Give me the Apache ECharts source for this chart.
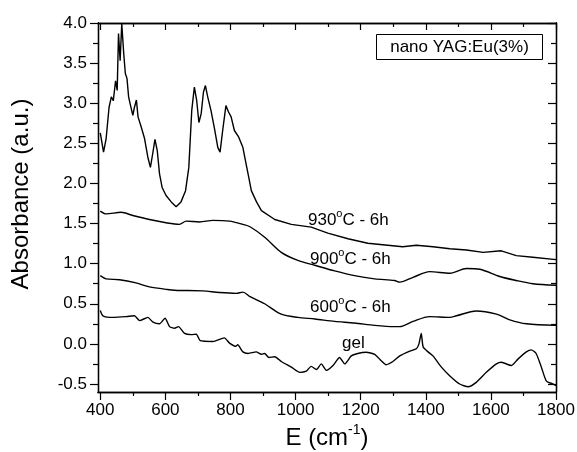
<!DOCTYPE html>
<html>
<head>
<meta charset="utf-8">
<script src="https://cdn.jsdelivr.net/npm/echarts@6/dist/echarts.min.js"></script>
<style>html,body{margin:0;padding:0;background:#fff}#c{width:577px;height:452px}</style>
</head>
<body>
<div id="c"></div>
<script>
// ---- data ----
var e930 = [400,410,418,427,434,440,447,452,456,461,466,472,477,482,487,493,500,505,511,516,526,536,546,554,561,568,575,582,590,602,618,633,648,662,672,681,689,696,703,710,717,723,730,740,751,761,768,776,786,794,802,812,825,838,850,856,864,880,895,936,987,1048,1099,1161,1222,1283,1329,1371,1422,1474,1525,1576,1632,1678,1729,1800];
var a930 = [2.63,2.39,2.56,2.95,3.08,3.03,3.28,3.16,3.87,3.53,3.99,3.62,3.37,3.31,3.08,2.97,2.85,2.95,3.04,2.83,2.70,2.56,2.33,2.20,2.37,2.55,2.41,2.12,1.95,1.85,1.77,1.71,1.77,1.91,2.20,2.91,3.20,3.04,2.76,2.87,3.14,3.22,3.08,2.91,2.68,2.45,2.39,2.66,2.97,2.89,2.83,2.66,2.58,2.45,2.20,2.08,1.91,1.77,1.66,1.55,1.49,1.455,1.38,1.31,1.255,1.23,1.21,1.23,1.21,1.185,1.17,1.14,1.16,1.10,1.08,1.05];
var e900 = [400,418,464,500,551,602,643,664,705,746,797,838,860,905,956,1007,1059,1120,1181,1243,1304,1320,1361,1412,1474,1525,1566,1627,1678,1729,1800];
var a900 = [1.655,1.62,1.64,1.60,1.55,1.51,1.49,1.53,1.52,1.54,1.53,1.49,1.46,1.33,1.14,1.04,0.98,0.91,0.85,0.81,0.79,0.77,0.83,0.90,0.88,0.94,0.93,0.84,0.79,0.75,0.73];
var e600 = [400,418,459,510,551,602,643,669,715,766,817,838,860,905,956,1007,1059,1120,1181,1243,1304,1320,1361,1412,1474,1494,1555,1617,1658,1709,1800];
var a600 = [0.85,0.81,0.80,0.76,0.71,0.68,0.665,0.665,0.66,0.64,0.63,0.645,0.59,0.50,0.37,0.33,0.31,0.28,0.26,0.23,0.215,0.215,0.28,0.34,0.33,0.35,0.41,0.37,0.30,0.25,0.23];
var eGel = [400,408,439,480,505,521,546,562,582,599,613,628,640,659,679,695,707,746,781,797,817,822,838,854,879,895,905,918,936,956,987,1013,1033,1048,1064,1079,1095,1115,1135,1151,1171,1191,1217,1243,1263,1278,1299,1320,1351,1371,1379,1386,1392,1407,1422,1448,1474,1504,1530,1555,1586,1617,1632,1663,1683,1709,1724,1739,1755,1770,1790,1800];
var aGel = [0.415,0.35,0.33,0.34,0.35,0.29,0.33,0.27,0.25,0.32,0.215,0.195,0.215,0.13,0.115,0.12,0.04,0.03,0.075,0.01,-0.03,-0.01,-0.10,-0.12,-0.10,-0.13,-0.12,-0.17,-0.16,-0.22,-0.29,-0.355,-0.34,-0.28,-0.32,-0.25,-0.33,-0.27,-0.17,-0.25,-0.15,-0.12,-0.105,-0.13,-0.21,-0.26,-0.22,-0.15,-0.09,-0.06,0.0,0.13,-0.04,-0.10,-0.15,-0.29,-0.40,-0.50,-0.535,-0.48,-0.355,-0.25,-0.23,-0.27,-0.19,-0.10,-0.075,-0.12,-0.29,-0.46,-0.50,-0.52];

var xMajor = [400,600,800,1000,1200,1400,1600,1800];
var xMinor = [500,700,900,1100,1300,1500,1700];
var yMajor = [-0.5,0,0.5,1,1.5,2,2.5,3,3.5,4];
var yMinor = [-0.25,0.25,0.75,1.25,1.75,2.25,2.75,3.25,3.75];

var seriesLabels = ['930{s|o}C - 6h','900{s|o}C - 6h','600{s|o}C - 6h','gel'];
var boxText = 'nano YAG:Eu(3%)';
var xTitle = 'E (cm{s|-1})';
var yTitle = 'Absorbance (a.u.)';

function zip(xs, ys){ var o=[]; for(var i=0;i<xs.length;i++) o.push([xs[i], ys[i]]); return o; }

var FONT = '"Liberation Sans", Arial, sans-serif';
var XMIN = 393, XMAX = 1800, YMIN = -0.6, YMAX = 4.0;
var lineStyleAxis = {color:'#000', width:1.3};

function xAx(pos, vals, len, inside, labels){
  return {type:'value', min:XMIN, max:XMAX, position:pos, gridIndex:0,
    axisLine:{show:true, onZero:false, lineStyle:lineStyleAxis},
    axisTick:{show:true, inside:inside, length:len, customValues:vals, lineStyle:{color:'#000', width:1.2}},
    axisLabel:{show:labels, customValues:vals, color:'#000', fontSize:17, fontFamily:FONT, margin:10,
      formatter:function(v){return String(Math.round(v));}},
    splitLine:{show:false}};
}
function yAx(pos, vals, len, inside, labels){
  return {type:'value', min:YMIN, max:YMAX, position:pos, gridIndex:0,
    axisLine:{show:true, onZero:false, lineStyle:lineStyleAxis},
    axisTick:{show:true, inside:inside, length:len, customValues:vals, lineStyle:{color:'#000', width:1.2}},
    axisLabel:{show:labels, customValues:vals, color:'#000', fontSize:17, fontFamily:FONT, margin:11,
      formatter:function(v){return v.toFixed(1);}},
    splitLine:{show:false}};
}

var chart = echarts.init(document.getElementById('c'), null, {renderer:'canvas'});
var lineSt = {color:'#000', width:1.4};
var option = {
  animation:false,
  backgroundColor:'#fff',
  grid:{left:98, right:21, top:23, bottom:60, outerBoundsMode:'none', containLabel:false},
  xAxis:[
    xAx('bottom', xMajor, 8, false, true),
    xAx('bottom', xMinor, 4, false, false),
    xAx('top', xMajor, 7, true, false),
    xAx('top', xMinor, 4, true, false)
  ],
  yAxis:[
    yAx('left', yMajor, 8, false, true),
    yAx('left', yMinor, 5, false, false),
    yAx('right', yMajor, 8, true, false),
    yAx('right', yMinor, 5, true, false)
  ],
  series:[
    {type:'line', name:'930', data:zip(e930,a930), showSymbol:false, smooth:false, lineStyle:lineSt, xAxisIndex:0, yAxisIndex:0},
    {type:'line', name:'900', data:zip(e900,a900), showSymbol:false, smooth:0.3, lineStyle:lineSt, xAxisIndex:0, yAxisIndex:0},
    {type:'line', name:'600', data:zip(e600,a600), showSymbol:false, smooth:0.3, lineStyle:lineSt, xAxisIndex:0, yAxisIndex:0},
    {type:'line', name:'gel', data:zip(eGel,aGel), showSymbol:false, smooth:0.2, lineStyle:lineSt, xAxisIndex:0, yAxisIndex:0}
  ],
  graphic:[
    {type:'rect', shape:{x:376.5, y:34.5, width:166, height:25}, style:{fill:'#fff', stroke:'#000', lineWidth:1}, z:10},
    {type:'text', x:459.5, y:47, style:{text:boxText, fontSize:17, fontFamily:FONT, fill:'#000', align:'center', verticalAlign:'middle'}, z:11},
    {type:'text', x:21, y:194, rotation:Math.PI/2, z:11,
      style:{text:yTitle, fontSize:24, fontFamily:FONT, fill:'#000', align:'center', verticalAlign:'middle'}},
    {type:'text', x:327, y:438, z:11,
      style:{text:xTitle, fontSize:24, lineHeight:30, fontFamily:FONT, fill:'#000', align:'center', verticalAlign:'middle',
        rich:{s:{fontSize:14, lineHeight:14, verticalAlign:'top', fontFamily:FONT, fill:'#000'}}}}
  ]
};
var rich = {s:{fontSize:11, verticalAlign:'top', lineHeight:11, fontFamily:FONT, fill:'#000', color:'#000'}};
var labPos = [[308,220],[310,259],[310,307],[342,343]];
for (var i=0;i<seriesLabels.length;i++){
  option.graphic.push({type:'text', x:labPos[i][0], y:labPos[i][1], z:11,
    style:{text:seriesLabels[i], fontSize:17, lineHeight:24, fontFamily:FONT, fill:'#000', align:'left', verticalAlign:'middle', rich:rich}});
}
chart.setOption(option);
</script>
</body>
</html>
